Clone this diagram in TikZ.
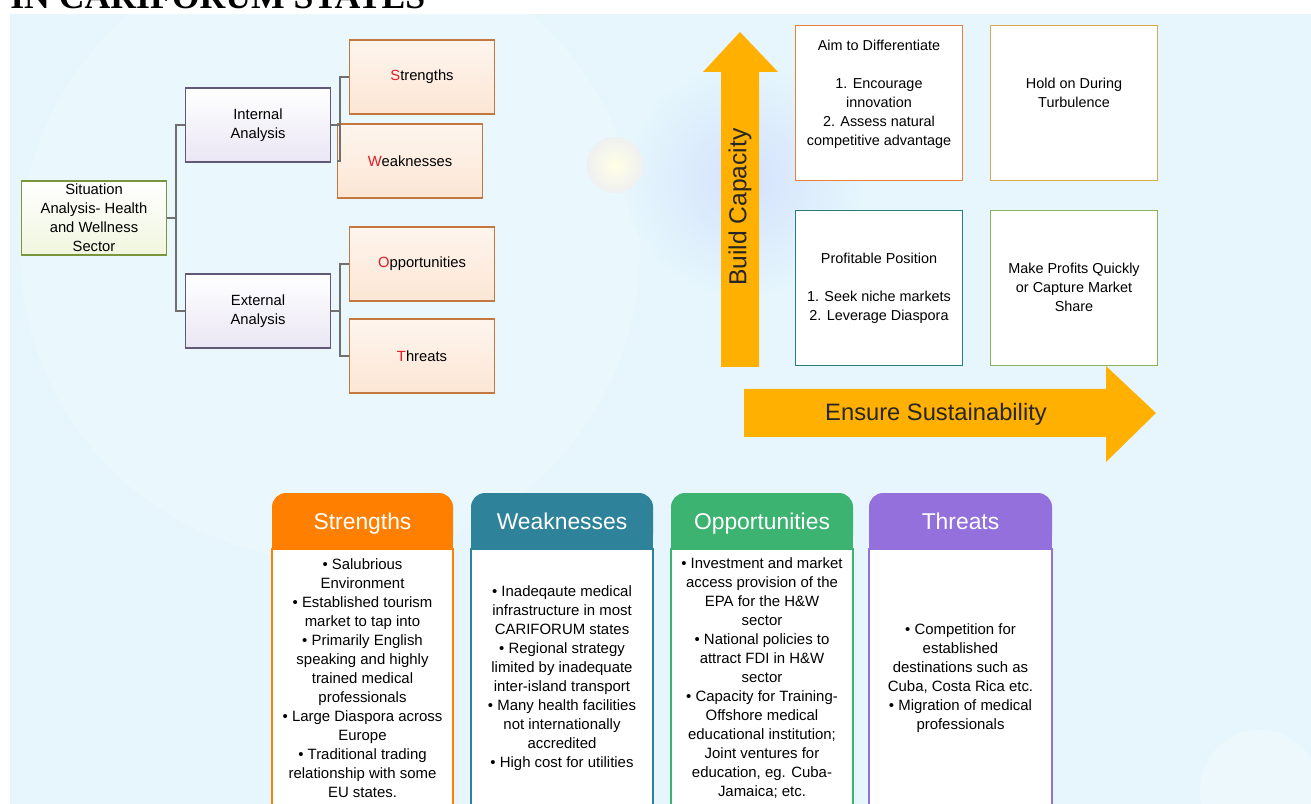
\documentclass[tikz,border=0pt]{standalone}
\usepackage{fontspec}
\setmainfont{Liberation Sans}
\newfontfamily\titlefont{Liberation Serif}
\usetikzlibrary{positioning,calc}
\definecolor{bgblue}{RGB}{230,246,252}
\definecolor{linkgray}{RGB}{112,112,112}
\definecolor{sitgreen}{RGB}{122,150,60}
\definecolor{sitfill}{RGB}{240,246,222}
\definecolor{anlpurple}{RGB}{98,88,120}
\definecolor{anlfill}{RGB}{234,230,244}
\definecolor{leafbrown}{RGB}{196,120,64}
\definecolor{leaffill}{RGB}{252,230,212}
\definecolor{letterred}{RGB}{222,28,40}
\definecolor{amber}{RGB}{255,176,0}
\definecolor{qorange}{RGB}{232,128,60}
\definecolor{qgold}{RGB}{214,170,80}
\definecolor{qteal}{RGB}{32,128,128}
\definecolor{qgreen}{RGB}{141,179,90}
\definecolor{strorange}{RGB}{255,128,0}
\definecolor{wkteal}{RGB}{46,130,153}
\definecolor{oppgreen}{RGB}{60,179,113}
\definecolor{thrpurple}{RGB}{147,112,219}
\newcommand{\rl}[1]{\textcolor{letterred}{#1}}

\begin{document}
\begin{tikzpicture}[
  x=0.2mm, y=-0.2mm,
  treebox/.style={rectangle, line width=0.9pt, minimum width=29mm, minimum height=14.8mm,
                  inner sep=1pt, align=center, font=\fontsize{8.4}{10.8}\selectfont},
  sit/.style={treebox, draw=sitgreen, top color=white, bottom color=sitfill},
  anl/.style={treebox, draw=anlpurple, top color=white, bottom color=anlfill},
  leaf/.style={treebox, draw=leafbrown, top color=white!60!leaffill, bottom color=leaffill},
  link/.style={linkgray, line width=0.9pt},
  quad/.style={rectangle, line width=0.9pt, fill=white, minimum width=33.4mm,
               minimum height=31mm},
  qtxt/.style={align=center, font=\fontsize{8.2}{10.8}\selectfont, inner sep=0pt},
  axislbl/.style={font=\fontsize{14}{16}\selectfont, text=black!85, inner sep=0pt},
  headtxt/.style={anchor=base, font=\fontsize{13}{15}\selectfont, text=white, inner sep=0pt},
  bodytxt/.style={align=center, font=\fontsize{8.5}{10.8}\selectfont, inner sep=0pt}
]
\useasboundingbox (0,0) rectangle (1311,804);

% page background and soft circles
\fill[white] (0,0) rectangle (1311,804);
\fill[bgblue] (10,14) rectangle (1311,804);
\fill[white, opacity=0.16] (330,250) circle (62mm);
\shade[inner color=blue!8!bgblue, outer color=bgblue] (745,180) circle (24mm);
\shade[inner color=white!90!yellow, outer color=black!6!white!92!bgblue] (615,165) circle (5.6mm);
\fill[white, opacity=0.3] (1260,790) circle (12mm);

% heading cut by the page edge
\node[anchor=base west, inner sep=0pt, font=\titlefont\bfseries\fontsize{20.3}{22}\selectfont]
  (title) at (10,9) {IN CARIFORUM STATES};

% situation analysis tree
\node[sit]  (sit)  at (94,218)  {Situation\\Analysis- Health\\and Wellness\\Sector};
\node[anl]  (int)  at (258,125) {Internal\\Analysis};
\node[anl]  (ext)  at (258,311) {External\\Analysis};
\node[leaf] (str)  at (422,77)  {\rl{S}trengths};
\node[leaf] (wk)   at (410,161) {\rl{W}eaknesses};
\node[leaf] (opp)  at (422,264) {\rl{O}pportunities};
\node[leaf] (thr)  at (422,356) {\rl{T}hreats};

\coordinate (trunk) at (176,218);
\coordinate (ib) at (340,125);
\coordinate (eb) at (340,311);
\draw[link] (sit.east) -- (trunk) |- (int.west);
\draw[link] (trunk) |- (ext.west);
\draw[link] (int.east) -- (ib) |- (str.west);
\draw[link] (ib) |- (wk.west);
\draw[link] (ext.east) -- (eb) |- (opp.west);
\draw[link] (eb) |- (thr.west);

% strategy matrix
\fill[amber] (721,367) -- (721,72) -- (703,72) -- (740,32) -- (778,72) -- (759,72) -- (759,367) -- cycle;
\fill[amber] (744,389) -- (1106,389) -- (1106,366) -- (1156,413) -- (1106,462) -- (1106,437) -- (744,437) -- cycle;
\node[axislbl, rotate=90] (capacity) at (740,207) {Build Capacity};
\node[axislbl, font=\fontsize{13.5}{16}\selectfont] (sustain) at (936,414) {Ensure Sustainability};

\node[quad, draw=qorange] (qtl) at (879,103) {};
\node[quad, draw=qgold]   (qtr) at (1074,103) {};
\node[quad, draw=qteal]   (qbl) at (879,288) {};
\node[quad, draw=qgreen]  (qbr) at (1074,288) {};
\node[qtxt] (differ) at (879,94)
  {Aim to Differentiate\\[10.8pt]1. Encourage\\innovation\\2. Assess natural\\competitive advantage};
\node[qtxt] (hold)   at (1074,93) {Hold on During\\Turbulence};
\node[qtxt] (profit) at (879,288)
  {Profitable Position\\[10.8pt]1. Seek niche markets\\2. Leverage Diaspora};
\node[qtxt] (quick)  at (1074,287) {Make Profits Quickly\\or Capture Market\\Share};

% SWOT cards
\draw[strorange, line width=1pt, fill=white] (272,549) rectangle (453,812);
\fill[strorange, rounded corners=8pt] (272,493) rectangle (453,549);
\fill[strorange] (272,520) rectangle (453,549);
\node[headtxt] (strhead) at (362.5,529) {Strengths};

\draw[wkteal, line width=1pt, fill=white] (471,549) rectangle (653,812);
\fill[wkteal, rounded corners=8pt] (471,493) rectangle (653,549);
\fill[wkteal] (471,520) rectangle (653,549);
\node[headtxt] (wkhead) at (562,529) {Weaknesses};

\draw[oppgreen, line width=1pt, fill=white] (671,549) rectangle (853,812);
\fill[oppgreen, rounded corners=8pt] (671,493) rectangle (853,549);
\fill[oppgreen] (671,520) rectangle (853,549);
\node[headtxt] (opphead) at (762,529) {Opportunities};

\draw[thrpurple, line width=1pt, fill=white] (869,549) rectangle (1052,812);
\fill[thrpurple, rounded corners=8pt] (869,493) rectangle (1052,549);
\fill[thrpurple] (869,520) rectangle (1052,549);
\node[headtxt] (thrhead) at (960.5,529) {Threats};

\node[bodytxt] (strbody) at (362.5,678)
  {• Salubrious\\Environment\\• Established tourism\\market to tap into\\• Primarily English\\
   speaking and highly\\trained medical\\professionals\\• Large Diaspora across\\Europe\\
   • Traditional trading\\relationship with some\\EU states.};
\node[bodytxt] (wkbody) at (562,678)
  {• Inadeqaute medical\\infrastructure in most\\CARIFORUM states\\• Regional strategy\\
   limited by inadequate\\inter-island transport\\• Many health facilities\\
   not internationally\\accredited\\• High cost for utilities};
\node[bodytxt] (oppbody) at (762,678)
  {• Investment and market\\access provision of the\\EPA for the H\&W\\sector\\
   • National policies to\\attract FDI in H\&W\\sector\\• Capacity for Training-\\
   Offshore medical\\educational institution;\\Joint ventures for\\education, eg. Cuba-\\Jamaica; etc.};
\node[bodytxt] (thrbody) at (960.5,678)
  {• Competition for\\established\\destinations such as\\Cuba, Costa Rica etc.\\
   • Migration of medical\\professionals};
\end{tikzpicture}
\end{document}
